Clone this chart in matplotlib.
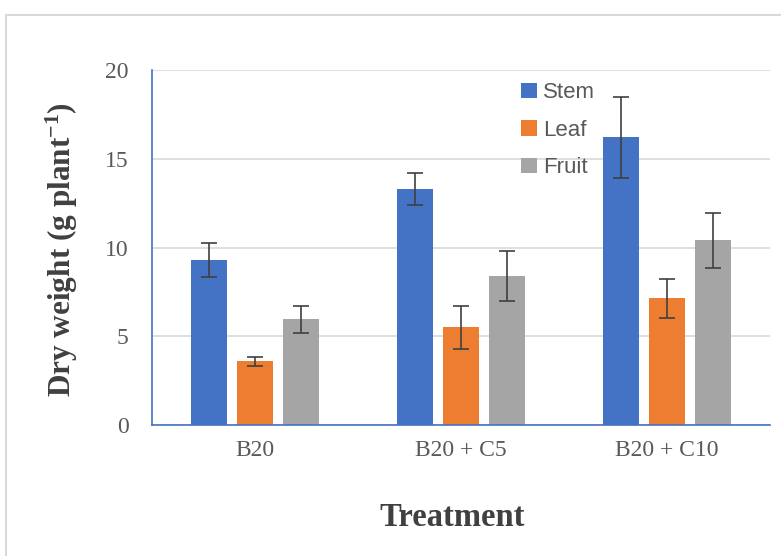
import numpy as np
import matplotlib
matplotlib.use("Agg")
import matplotlib.pyplot as plt
from matplotlib.patches import Rectangle

treatments = ["B20", "B20 + C5", "B20 + C10"]
parts = ["Stem", "Leaf", "Fruit"]
means = {
    "Stem": [9.3, 13.3, 16.2],
    "Leaf": [3.6, 5.5, 7.15],
    "Fruit": [5.95, 8.4, 10.4],
}
errors = {
    "Stem": [0.95, 0.9, 2.3],
    "Leaf": [0.25, 1.2, 1.1],
    "Fruit": [0.78, 1.4, 1.55],
}
colors = {"Stem": "#4472C4", "Leaf": "#ED7D31", "Fruit": "#A5A5A5"}

# superscript in the same bold serif as the label
plt.rcParams["mathtext.fontset"] = "custom"
plt.rcParams["mathtext.rm"] = "Liberation Serif:bold"
plt.rcParams["mathtext.bf"] = "Liberation Serif:bold"
plt.rcParams["mathtext.it"] = "Liberation Serif:bold"

fig = plt.figure(figsize=(7.81, 5.56), dpi=100)
ax = fig.add_axes([152 / 781, 1 - 425 / 556, 618 / 781, 355 / 556])

x = np.arange(len(treatments))
width = 0.175
step = 0.223
for i, p in enumerate(parts):
    ax.bar(x + (i - 1) * step, means[p], width, color=colors[p], label=p,
           yerr=errors[p], capsize=5.5,
           error_kw=dict(ecolor="#404040", elinewidth=1.2, capthick=1.2))

ax.set_xlim(-0.5, 2.5)
ax.set_ylim(0, 20)
ax.set_yticks([0, 5, 10, 15, 20])
ax.set_xticks(x)
ax.set_xticklabels(treatments)
ax.grid(True, axis="y", color="#d9d9d9", linewidth=1.2)
ax.set_axisbelow(True)
for s in ["top", "right"]:
    ax.spines[s].set_visible(False)
for s in ["left", "bottom"]:
    ax.spines[s].set_color("#4472C4")
    ax.spines[s].set_linewidth(1.2)
ax.tick_params(length=0, labelcolor="#595959")
ax.tick_params(axis="y", pad=17)
ax.tick_params(axis="x", pad=11)
for lab in ax.get_xticklabels() + ax.get_yticklabels():
    lab.set_fontfamily("Liberation Serif")
    lab.set_fontsize(17)

fig.text(62 / 781, 1 - 250 / 556, r"Dry weight (g plant$^{\mathrm{-1}}$)",
         rotation=90, ha="center", va="center", family="Liberation Serif",
         fontweight="bold", fontsize=22.5, color="#404040")
fig.text(452 / 781, 1 - 517 / 556, "Treatment", ha="center", va="center",
         family="Liberation Serif", fontweight="bold", fontsize=23.5, color="#404040")

leg = ax.legend(loc="upper left", bbox_to_anchor=(510 / 781, 1 - 71 / 556),
                bbox_transform=fig.transFigure, frameon=False, borderpad=0,
                handlelength=0.7, handleheight=0.7, handletextpad=0.3,
                labelspacing=0.75, prop=dict(family="Liberation Sans", size=16))
for t in leg.get_texts():
    t.set_color("#595959")

fig.add_artist(Rectangle((6 / 781, -0.1), 2, (541 / 556) + 0.1,
                         transform=fig.transFigure, fill=False,
                         edgecolor="#d9d9d9", linewidth=1.5))

fig.savefig("out.png", dpi=100)
